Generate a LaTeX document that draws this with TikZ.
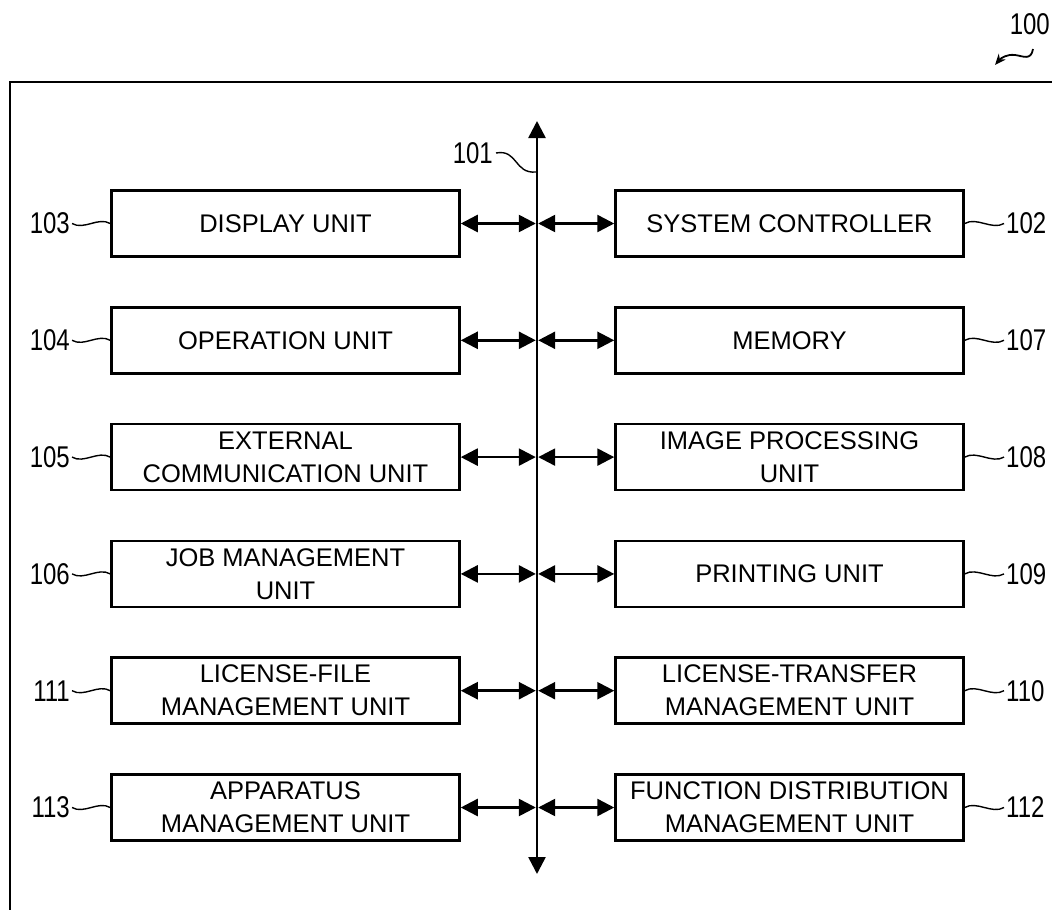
\documentclass[tikz,border=0pt]{standalone}
\usepackage{fontspec}
\setmainfont{Liberation Sans}
\newfontfamily\numfont[FakeStretch=0.8]{Liberation Sans}
\usetikzlibrary{arrows.meta}
\begin{document}
\begin{tikzpicture}[x=1pt,y=-1pt,
  unitbox/.style={draw, line width=2.5pt, minimum width=348pt, minimum height=66pt,
    align=center, font=\fontsize{25.5}{33}\selectfont, inner sep=0pt},
  numlabel/.style={font=\numfont\fontsize{30}{30}\selectfont, inner sep=0pt},
  biarrow/.style={line width=2.5pt, {Triangle[length=17pt,width=17pt]}-{Triangle[length=17pt,width=17pt]}},
  leader/.style={line width=1.4pt},
  frame/.style={line width=2.5pt}]
\useasboundingbox (0,0) rectangle (1052,910);
\clip (0,0) rectangle (1052,910);
% outer frame
\draw[frame] (10,82) rectangle (1070,930);
% bus
\coordinate (bt) at (537,121);
\coordinate (bb) at (537,874);
\draw[biarrow] (bb) -- (bt);
\coordinate (busL) at (535.8,0);
\coordinate (busR) at (538.2,0);
% boxes
\foreach \i/\y/\lt/\rt/\ln/\rn in {
  1/223.5/{DISPLAY UNIT}/{SYSTEM CONTROLLER}/103/102,
  2/340.3/{OPERATION UNIT}/{MEMORY}/104/107,
  3/457.1/{EXTERNAL\\COMMUNICATION UNIT}/{IMAGE PROCESSING\\UNIT}/105/108,
  4/573.9/{JOB MANAGEMENT\\UNIT}/{PRINTING UNIT}/106/109,
  5/690.7/{LICENSE-FILE\\MANAGEMENT UNIT}/{LICENSE-TRANSFER\\MANAGEMENT UNIT}/111/110,
  6/807.5/{APPARATUS\\MANAGEMENT UNIT}/{FUNCTION DISTRIBUTION\\MANAGEMENT UNIT}/113/112}{
  \node[unitbox] (L\i) at (285.5,\y) {\lt};
  \node[unitbox] (R\i) at (789.5,\y) {\rt};
  \node[numlabel, anchor=east] (N\ln) at (70,\y) {\ln};
  \node[numlabel, anchor=west] (N\rn) at (1006,\y) {\rn};
  \draw[biarrow] (L\i.east) -- (L\i.east -| busL);
  \draw[biarrow] (R\i.west -| busR) -- (R\i.west);
  \draw[leader] ([xshift=2pt]N\ln.east) .. controls +(12,7) and +(-12,-7) .. (L\i.west);
  \draw[leader] (R\i.east) .. controls +(12,-7) and +(-12,7) .. ([xshift=-2pt]N\rn.west);
}
% bus label
\node[numlabel, anchor=east] (N101) at (493,153) {101};
\coordinate (b101) at (536,172);
\draw[leader] ([xshift=3pt]N101.east) .. controls +(22,-4) and +(-22,2) .. (b101);
% apparatus label
\node[numlabel, anchor=east] (N100) at (1050,24) {100};
\coordinate (a100s) at (1033,49);
\coordinate (a100e) at (995,65);
\draw[line width=1.8pt, -{Stealth[length=11pt,width=9pt]}] (a100s) .. controls +(-2,12) and +(8,1) .. (1015,55) .. controls +(-8,-1) and +(6,-7) .. (a100e);
\end{tikzpicture}
\end{document}
